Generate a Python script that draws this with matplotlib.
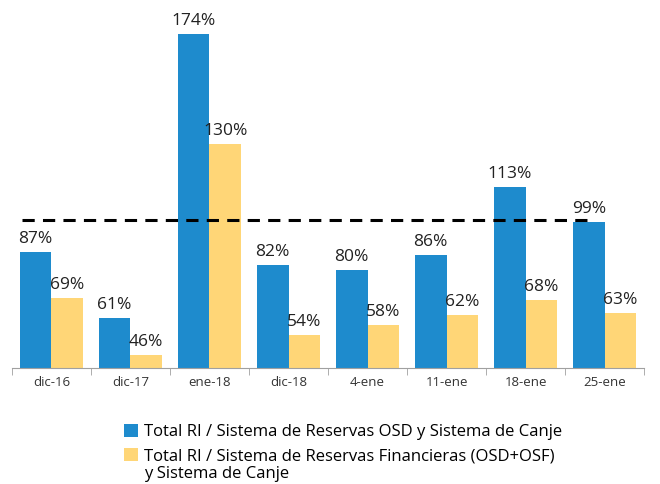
import matplotlib.pyplot as plt
import numpy as np

plt.rcParams['font.family'] = ['Open Sans', 'DejaVu Sans']

categorias = ["dic-16", "dic-17", "ene-18", "dic-18", "4-ene", "11-ene", "18-ene", "25-ene"]
osd = [87, 61, 174, 82, 80, 86, 113, 99]
financieras = [69, 46, 130, 54, 58, 62, 68, 63]
umbral = 100

etiqueta_osd = "Total RI / Sistema de Reservas OSD y Sistema de Canje"
etiqueta_fin = "Total RI / Sistema de Reservas Financieras (OSD+OSF)"
etiqueta_fin_2 = "y Sistema de Canje"

azul = "#1E8BCD"
amarillo = "#FFD677"

fig = plt.figure(figsize=(6.6, 4.84), dpi=100)
ax = fig.add_axes([0.018, 0.2397, 0.958, 0.7273])

x = np.arange(len(categorias))
w = 0.4
b1 = ax.bar(x - w / 2, osd, w, color=azul, label=etiqueta_osd)
b2 = ax.bar(x + w / 2, financieras, w, color=amarillo, label=etiqueta_fin)

for rect, v in zip(b1, osd):
    ax.text(rect.get_x() + rect.get_width() / 2, v + 2, f"{v}%",
            ha='center', va='bottom', fontsize=12.5, color='#222222')
for rect, v in zip(b2, financieras):
    ax.text(rect.get_x() + rect.get_width() / 2, v + 2, f"{v}%",
            ha='center', va='bottom', fontsize=12.5, color='#222222')

# linea de referencia 100%
ax.hlines(umbral, -0.37, 6.84, colors='black', linestyles=(0, (4, 2.7)), linewidth=2.2)

ax.set_xlim(-0.5, len(categorias) - 0.5)
ax.set_ylim(41, 181)

ax.set_xticks(x)
ax.set_xticklabels(categorias, fontsize=9.5, color='#333333')
ax.tick_params(axis='x', which='major', length=0, pad=6)
ax.set_xticks(np.arange(-0.5, len(categorias)), minor=True)
ax.tick_params(axis='x', which='minor', length=5, color='#A0A0A0')
ax.set_yticks([])

for s in ['top', 'right', 'left']:
    ax.spines[s].set_visible(False)
ax.spines['bottom'].set_color('#A0A0A0')

leg = fig.legend(loc='upper left', bbox_to_anchor=(0.188, 0.124), frameon=False,
                 fontsize=12, handlelength=0.85, handleheight=0.85, handletextpad=0.35,
                 labelspacing=0.45, borderaxespad=0, borderpad=0)

# segunda linea de la leyenda, alineada con el texto
fig.canvas.draw()
bb = leg.get_texts()[1].get_window_extent().transformed(fig.transFigure.inverted())
fig.text(bb.x0, bb.y0 - 0.003, etiqueta_fin_2, fontsize=12, ha='left', va='top')

fig.savefig("out.png", dpi=100)
